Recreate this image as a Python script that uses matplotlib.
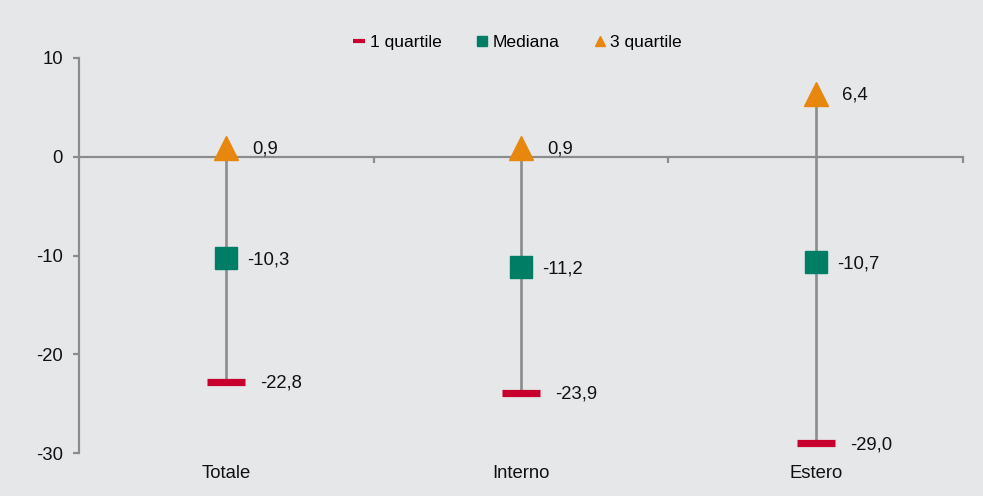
import matplotlib.pyplot as plt
from matplotlib.lines import Line2D

plt.rcParams['font.family'] = ['Liberation Sans', 'DejaVu Sans']
plt.rcParams['axes.unicode_minus'] = False

# Data
categories = ["Totale", "Interno", "Estero"]
q1 = [-22.8, -23.9, -29.0]
median = [-10.3, -11.2, -10.7]
q3 = [0.9, 0.9, 6.4]

bg = '#E6E7E9'
red = '#C8002D'
green = '#007E65'
orange = '#E8870E'
grey = '#8C8C8C'
fs = 13.3

fig = plt.figure(figsize=(9.83, 4.96), dpi=100, facecolor=bg)
ax = fig.add_axes([79/983, 1 - 453/496, (963 - 79)/983, (453 - 58)/496])
ax.set_facecolor(bg)

x = [i + 0.5 for i in range(len(categories))]

ax.vlines(x, q1, q3, color=grey, lw=1.9, zorder=1)
ax.plot(x, q1, ls='none', marker='_', ms=27.5, mew=5.2, color=red, zorder=3)
ax.plot(x, median, ls='none', marker='s', ms=15.5, color=green, zorder=3)
ax.plot(x, q3, ls='none', marker='^', ms=17, color=orange, zorder=3)

# data labels
def fmt(v):
    return f"{v:.1f}".replace('.', ',')

for xi, a, b, c in zip(x, q1, median, q3):
    ax.annotate(fmt(a), (xi, a), xytext=(34 * 0.72, -1), textcoords='offset points',
                ha='left', va='center', fontsize=fs, color='#111111')
    ax.annotate(fmt(b), (xi, b), xytext=(21 * 0.72, -1), textcoords='offset points',
                ha='left', va='center', fontsize=fs, color='#111111')
    ax.annotate(fmt(c), (xi, c), xytext=(26 * 0.72, -1), textcoords='offset points',
                ha='left', va='center', fontsize=fs, color='#111111')

# category labels below the plot
for xi, lab in zip(x, categories):
    ax.annotate(lab, (xi, 0), xycoords=('data', 'axes fraction'), xytext=(0, -12 * 0.72),
                textcoords='offset points', ha='center', va='top', fontsize=fs,
                color='#111111')

ax.set_xlim(0, 3)
ax.set_ylim(-30, 10)
ax.set_yticks([10, 0, -10, -20, -30])
ax.set_xticks([1, 2, 3])
ax.set_xticklabels([])

for s in ['top', 'right']:
    ax.spines[s].set_visible(False)
ax.spines['bottom'].set_position(('data', 0))
for s in ['left', 'bottom']:
    ax.spines[s].set_color(grey)
    ax.spines[s].set_linewidth(1.6)

ax.tick_params(axis='y', direction='out', length=4, width=1.6, color=grey,
               pad=7.5, labelsize=fs, labelcolor='#111111')
ax.tick_params(axis='x', direction='out', length=4, width=1.6, color=grey)

handles = [
    Line2D([], [], ls='none', marker='_', ms=8, mew=3, color=red),
    Line2D([], [], ls='none', marker='s', ms=7.5, color=green),
    Line2D([], [], ls='none', marker='^', ms=7.5, color=orange),
]
fig.legend(handles, ["1 quartile", "Mediana", "3 quartile"], loc='center',
           bbox_to_anchor=(517/983, 1 - 42/496), ncol=3, frameon=False,
           fontsize=12.6, handlelength=0.8, handletextpad=0.2, columnspacing=1.9)

fig.savefig('out.png', dpi=100, facecolor=bg)
